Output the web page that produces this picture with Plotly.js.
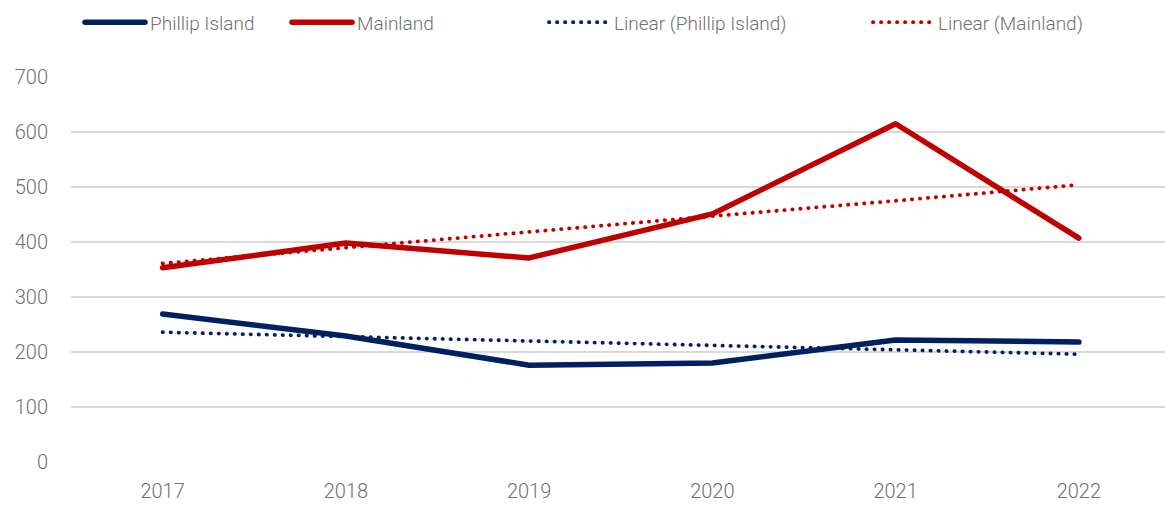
<!DOCTYPE html>
<html>
<head>
<meta charset="utf-8">
<script src="https://cdn.plot.ly/plotly-3.0.1.min.js"></script>
<style>
  html, body { margin: 0; padding: 0; background: #fff; }
  #chart { width: 1165px; height: 506px; }
  .scatterlayer path.js-line { stroke-linecap: round; stroke-linejoin: round; }
</style>
</head>
<body>
<div id="chart"></div>
<script>
const years = ['2017', '2018', '2019', '2020', '2021', '2022'];
const phillipIsland = [269, 229, 176, 180, 222, 218];
const mainland = [353, 398, 371, 451, 615, 407];
const linearPhillipIsland = [236, 228, 220, 212, 204, 196];
const linearMainland = [361, 390, 418, 447, 475, 504];
const yTicks = [0, 100, 200, 300, 400, 500, 600, 700];

const navy = '#002060';
const red = '#C00000';
const tickFont = { family: 'Roboto, "Noto Sans", sans-serif', size: 20, color: '#707070', weight: 300 };
const legFont = { family: 'Roboto, "Noto Sans", sans-serif', size: 19, color: '#707070', weight: 300 };

const traces = [
  { x: years, y: phillipIsland, name: 'Phillip Island', mode: 'lines', line: { color: navy, width: 5.5 }, legend: 'legend' },
  { x: years, y: mainland, name: 'Mainland', mode: 'lines', line: { color: red, width: 5.5 }, legend: 'legend2' },
  { x: years, y: linearPhillipIsland, name: 'Linear (Phillip Island)', mode: 'lines', line: { color: navy, width: 3.8, dash: '0.3px,7.7px' }, legend: 'legend3' },
  { x: years, y: linearMainland, name: 'Linear (Mainland)', mode: 'lines', line: { color: red, width: 3.8, dash: '0.3px,7.7px' }, legend: 'legend4' }
];

const L = 71, W = 1094;
function px(p) { return (p - L) / W; }
const legBase = { orientation: 'h', yanchor: 'middle', y: 1.142, xanchor: 'left', font: legFont, bgcolor: 'rgba(0,0,0,0)', itemwidth: 60, itemclick: false, itemdoubleclick: false };

const layout = {
  width: 1165, height: 506,
  margin: { l: 71, r: 0, t: 77, b: 44, pad: 0 },
  paper_bgcolor: '#fff', plot_bgcolor: '#fff',
  font: tickFont,
  showlegend: true,
  legend: Object.assign({}, legBase, { x: px(80) }),
  legend2: Object.assign({}, legBase, { x: px(287) }),
  legend3: Object.assign({}, legBase, { x: px(544) }),
  legend4: Object.assign({}, legBase, { x: px(868) }),
  xaxis: {
    type: 'category', range: [-0.5, 5.47], showgrid: false, zeroline: false, showline: false,
    ticks: '', tickfont: tickFont, fixedrange: true, ticklabelstandoff: 15
  },
  yaxis: {
    range: [0, 700], tickvals: yTicks, ticktext: yTicks.map(String), showgrid: true, gridcolor: '#d9d9d9', gridwidth: 1.5,
    zeroline: false, showline: false, ticks: '', tickfont: tickFont, fixedrange: true, ticklabelstandoff: 22
  },
  hovermode: false
};

Plotly.newPlot('chart', traces, layout, { displayModeBar: false, staticPlot: true }).then(function (gd) {
  const paths = gd.querySelectorAll('.infolayer path');
  paths.forEach(function (p) {
    const st = p.getAttribute('style') || '';
    if (st.indexOf('7.7') >= 0) {
      p.style.strokeLinecap = 'round';
      p.style.strokeWidth = '3.8px';
      p.style.strokeOpacity = '1';
    } else if (st.indexOf('stroke-width') >= 0 && p.getAttribute('d') && p.getAttribute('d').indexOf('h') >= 0) {
      p.style.strokeLinecap = 'round';
      p.style.strokeWidth = '5.5px';
    }
  });
});
</script>
</body>
</html>
